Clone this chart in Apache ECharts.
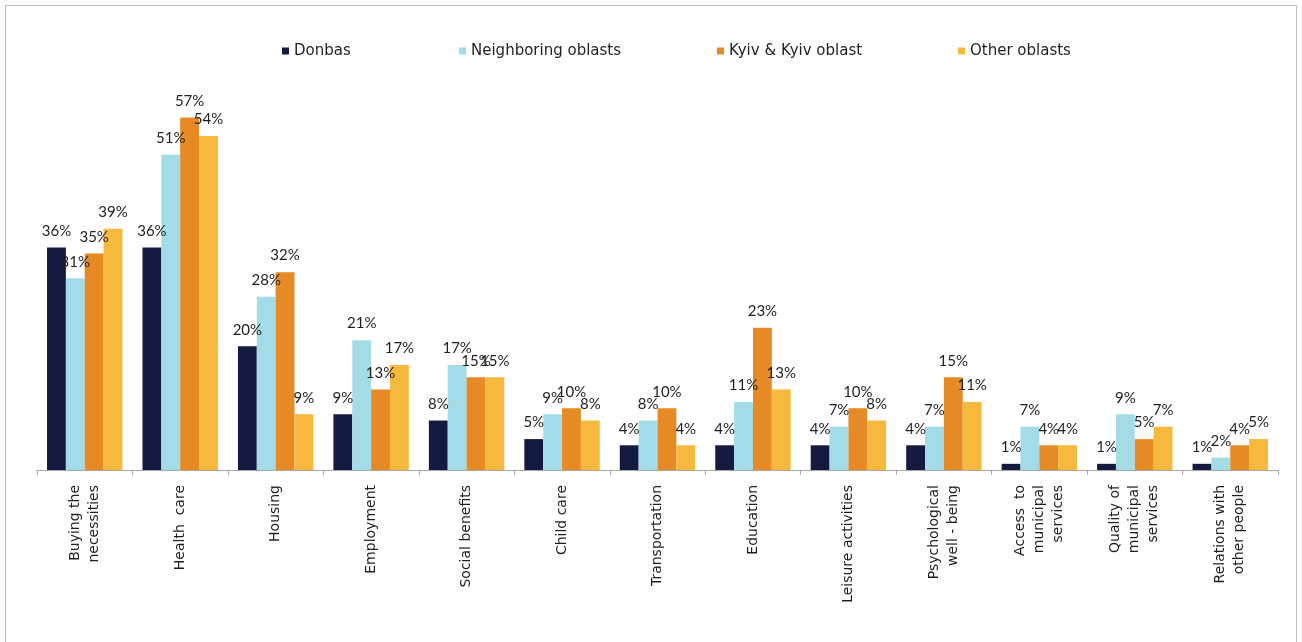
<!DOCTYPE html>
<html>
<head>
<meta charset="utf-8">
<script src="https://cdn.jsdelivr.net/npm/echarts@6/dist/echarts.min.js"></script>
<style>
    html, body { margin: 0; padding: 0; background: #fff; overflow: hidden; }
    #frame { position: absolute; left: 5px; top: 5px; width: 1290px; height: 700px; border: 1px solid #bfbfbf; }
    #main { position: absolute; left: 0; top: 0; width: 1302px; height: 642px; }
</style>
</head>
<body>
<div id="frame"></div>
<div id="main"></div>
<script>
    // categories (axis labels, line breaks as in the original)
    var categories = [
        'Buying the\nnecessities', 'Health  care', 'Housing', 'Employment', 'Social benefits',
        'Child care', 'Transportation', 'Education', 'Leisure activities',
        'Psychological\nwell - being', 'Access  to\nmunicipal\nservices', 'Quality of\nmunicipal\nservices',
        'Relations with\nother people'
    ];
    var seriesNames = ['Donbas', 'Neighboring oblasts', 'Kyiv & Kyiv oblast', 'Other oblasts'];
    var donbas     = [36, 36, 20,  9,  8,  5,  4,  4,  4,  4, 1, 1, 1];
    var neighbor   = [31, 51, 28, 21, 17,  9,  8, 11,  7,  7, 7, 9, 2];
    var kyiv       = [35, 57, 32, 13, 15, 10, 10, 23, 10, 15, 4, 5, 4];
    var other      = [39, 54,  9, 17, 15,  8,  4, 13,  8, 11, 4, 7, 5];
    var colors = ['#141a40', '#a3dce7', '#e68a25', '#f6b83d'];

    var wideFont = '"DejaVu Sans", sans-serif';
    var font = 'Lato, "DejaVu Sans", sans-serif';
    var values = [donbas, neighbor, kyiv, other];
    var legendLeft = [282, 459, 717, 958];

    var myChart = echarts.init(document.getElementById('main'));

    var series = [];
    var legends = [];
    for (var i = 0; i < 4; i++) {
        series.push({
            name: seriesNames[i],
            type: 'bar',
            data: values[i],
            barGap: '0%',
            barCategoryGap: '21%',
            itemStyle: {color: colors[i]},
            label: {
                show: true,
                position: 'top',
                distance: 9,
                formatter: '{c}%',
                fontFamily: font,
                fontSize: 15,
                color: '#1f1f1f'
            }
        });
        legends.push({
            data: [seriesNames[i]],
            left: legendLeft[i],
            top: 43,
            padding: 0,
            itemWidth: 7,
            itemHeight: 7,
            icon: 'rect',
            selectedMode: false,
            textStyle: {fontFamily: wideFont, fontSize: 15, lineHeight: 16, color: '#1f1f1f'}
        });
    }

    myChart.setOption({
        color: colors,
        animation: false,
        legend: legends,
        grid: {left: 37, right: 24, top: 99, bottom: 172},
        xAxis: {
            type: 'category',
            data: categories,
            axisLine: {lineStyle: {color: '#a6a6a6', width: 1}},
            axisTick: {show: true, length: 5, lineStyle: {color: '#a6a6a6'}},
            axisLabel: {
                interval: 0,
                rotate: 90,
                margin: 15,
                fontFamily: wideFont,
                fontSize: 14,
                lineHeight: 19,
                color: '#1f1f1f'
            }
        },
        yAxis: {
            type: 'value',
            min: 0,
            max: 60,
            show: false,
            splitLine: {show: false}
        },
        series: series
    });
</script>
</body>
</html>
